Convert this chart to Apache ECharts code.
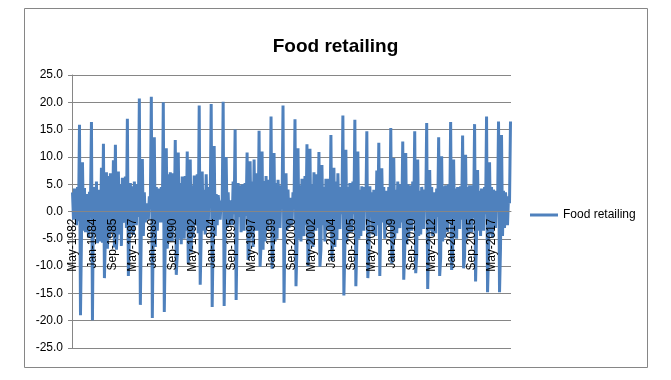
<!DOCTYPE html>
<html>
<head>
<meta charset="utf-8">
<script src="https://cdn.jsdelivr.net/npm/echarts@6/dist/echarts.min.js"></script>
<style>html,body{margin:0;padding:0;background:#fff}#c{width:671px;height:380px}</style>
</head>
<body>
<div id="c"></div>
<script>
// Monthly % change, Food retailing, May-1982 .. Dec-2018
const startYear = 1982, startMonth = 4; // May (0-based)
const v1980s = [
  /*1982*/ 3.5, -1.5, 4.2, 0.8, -2.5, 4.5, -1.8, 15.9,
  /*1983*/ -19.0, -4.6, 9.0, -3.5, 4.3, -3.8, 3.2, 2.5, -4.8, 3.6, 1.2, 16.4,
  /*1984*/ -19.9, 3.2, 4.5, -4.2, 5.5, -5.8, 4.0, 3.8, -5.5, 8.0, -5.7, 12.4,
  /*1985*/ -12.2, -4.2, 7.2, -6.8, 6.5, -5.0, 7.0, -2.2, -3.8, 9.4, -6.6, 12.2,
  /*1986*/ -7.0, -3.5, 7.3, -4.2, 5.0, -6.3, 6.2, -1.5, -2.0, 6.4, -3.0, 17.0,
  /*1987*/ -11.8, -4.5, 5.2, -3.8, 4.6, -4.3, 5.5, -0.8, -2.5, 5.0, -1.0, 20.7,
  /*1988*/ -17.1, -3.0, 9.6, -4.5, 3.5, -2.0, 1.5, 0.5, -1.5, 2.8, 1.0, 21.0,
  /*1989*/ -19.5, -2.0, 13.6, -6.5, 4.5, -3.5, 4.2, 0.8, -2.0, 4.5, -2.0, 20.0
];
const v1990s = [
  /*1990*/ -18.4, -5.0, 11.6, -6.8, 6.8, -5.5, 7.2, -1.5, -5.4, 7.0, -2.5, 13.1,
  /*1991*/ -11.6, -7.8, 10.8, -5.0, 5.2, -6.0, 6.4, -1.2, -5.0, 6.5, -3.5, 11.0,
  /*1992*/ -9.5, -3.0, 9.5, -7.5, 4.8, -4.8, 6.6, -2.5, -2.0, 6.8, -4.0, 19.4,
  /*1993*/ -13.4, -4.5, 7.3, -3.5, 4.0, -4.2, 6.8, -2.0, -3.0, 4.5, 1.0, 19.7,
  /*1994*/ -17.5, -4.2, 12.0, -4.5, 3.2, -2.5, 3.0, 1.2, -1.5, 2.0, 0.5, 20.1,
  /*1995*/ -17.3, -5.0, 10.0, -3.0, 3.5, -2.5, 1.5, 2.0, -2.5, 5.5, -0.5, 15.0,
  /*1996*/ -16.2, -3.5, 5.2, -1.0, 4.8, -3.8, 5.0, -0.5, -3.5, 5.2, -0.8, 10.8,
  /*1997*/ -8.9, -7.5, 9.2, -4.2, 5.5, -6.5, 9.5, -3.5, -3.2, 7.0, -3.5, 14.8,
  /*1998*/ -10.1, -6.0, 11.0, -7.0, 5.6, -5.5, 6.5, -1.0, -3.5, 5.8, -1.5, 17.4,
  /*1999*/ -10.5, -6.8, 10.7, -5.5, 5.2, -5.0, 5.8, -0.5, -3.0, 4.8, 0.5, 19.4
];
const v2000s = [
  /*2000*/ -16.7, -1.5, 7.0, -3.5, 4.0, -3.0, 2.5, 1.0, -2.5, 3.5, 0.8, 16.9,
  /*2001*/ -13.7, -6.0, 11.6, -5.0, 4.8, -5.5, 6.0, -1.0, -4.5, 6.5, -2.5, 12.3,
  /*2002*/ -10.0, -7.2, 11.5, -6.0, 5.0, -6.5, 7.2, -1.5, -3.5, 6.8, -3.0, 10.9,
  /*2003*/ -10.1, -7.0, 8.5, -2.5, 4.5, -5.5, 6.0, -0.5, -3.5, 6.0, -3.5, 14.0,
  /*2004*/ -9.0, -3.5, 8.0, -6.5, 5.5, -5.2, 7.0, -1.5, -3.2, 4.5, -0.5, 17.6,
  /*2005*/ -15.4, -6.5, 11.3, -5.5, 4.5, -4.0, 5.2, 0.5, -3.8, 5.5, -0.5, 16.8,
  /*2006*/ -13.7, -5.5, 11.0, -5.0, 4.0, -4.5, 4.6, 1.0, -3.5, 4.5, 0.2, 14.7,
  /*2007*/ -12.2, -7.8, 4.6, -1.0, 3.5, -4.2, 4.0, 0.5, -4.5, 7.5, -2.5, 12.6,
  /*2008*/ -11.8, -1.5, 7.9, -2.0, 4.5, -5.0, 3.8, 0.5, -2.5, 4.5, -2.8, 15.3,
  /*2009*/ -9.5, -8.5, 9.8, -5.0, 4.0, -4.0, 5.5, -2.0, -3.0, 5.0, -2.0, 12.8
];
const v2010s = [
  /*2010*/ -12.5, -7.0, 10.7, -6.0, 5.0, -4.8, 4.8, -0.5, -3.5, 5.5, -1.5, 14.7,
  /*2011*/ -11.3, -8.0, 9.5, -4.5, 3.8, -4.2, 4.5, 0.5, -3.2, 4.0, 0.5, 16.2,
  /*2012*/ -14.2, -5.5, 7.6, -3.5, 4.5, -4.5, 3.5, 1.5, -4.0, 4.2, -1.0, 13.6,
  /*2013*/ -11.8, -8.5, 10.1, -5.5, 4.6, -4.8, 4.8, -0.5, -3.8, 5.0, -1.8, 16.4,
  /*2014*/ -10.7, -8.0, 9.5, -4.8, 4.2, -5.0, 4.5, 0.2, -3.2, 4.6, -1.5, 13.9,
  /*2015*/ -10.4, -8.2, 10.4, -5.0, 4.5, -4.2, 4.8, -0.5, -3.8, 4.8, -1.2, 16.0,
  /*2016*/ -12.8, -4.0, 7.6, -3.5, 3.8, -4.5, 4.2, 0.8, -3.5, 4.5, -0.5, 17.4,
  /*2017*/ -14.8, -7.5, 9.0, -4.2, 4.5, -4.8, 4.0, 0.5, -3.0, 3.8, 0.2, 16.5,
  /*2018*/ -14.8, -6.5, 14.0, -4.5, 3.8, -3.0, 3.5, 0.5, -2.5, 2.8, 1.5, 16.5
];
const yTicks = [-25, -20, -15, -10, -5, 0, 5, 10, 15, 20, 25];
const monthNames = ['Jan','Feb','Mar','Apr','May','Jun','Jul','Aug','Sep','Oct','Nov','Dec'];

const values = [].concat(v1980s, v1990s, v2000s, v2010s);
const categories = values.map((_, i) => {
  const m = startMonth + i;
  return monthNames[m % 12] + '-' + (startYear + Math.floor(m / 12));
});

const chart = echarts.init(document.getElementById('c'), null, {renderer: 'canvas'});
const FONT = 'Liberation Sans';
const plotTop = 75, plotBottom = 32, plotHeight = 380 - plotTop - plotBottom;
chart.setOption({
  animation: false,
  backgroundColor: '#ffffff',
  graphic: [{
    type: 'rect', silent: true, z: -10,
    shape: {x: 24.5, y: 8.5, width: 623, height: 359},
    style: {fill: 'none', stroke: '#868686', lineWidth: 1}
  }],
  title: {
    text: 'Food retailing', left: 'center', top: 32,
    textStyle: {fontFamily: FONT, fontSize: 19, fontWeight: 'bold', color: '#000'}
  },
  legend: {
    left: 525, top: 204, icon: 'rect', itemWidth: 28, itemHeight: 3, itemGap: 0,
    textStyle: {fontFamily: FONT, fontSize: 12, color: '#000'},
    data: ['Food retailing']
  },
  grid: {left: 72, right: 160, top: plotTop, bottom: plotBottom, containLabel: false, outerBoundsMode: 'none'},
  xAxis: {
    type: 'category', data: categories, boundaryGap: true, z: 5,
    position: 'bottom',
    // axis sits on the zero line (middle of the symmetric -25..25 range)
    offset: -plotHeight * (0 - yTicks[0]) / (yTicks[yTicks.length - 1] - yTicks[0]),
    axisLine: {show: true, onZero: false, lineStyle: {color: '#868686', width: 1}},
    axisTick: {show: false},
    axisLabel: {interval: 19, rotate: 90, margin: 7, fontFamily: FONT, fontSize: 12, color: '#000'},
    splitLine: {show: false}
  },
  yAxis: {
    type: 'value', min: yTicks[0], max: yTicks[yTicks.length - 1], interval: 5,
    axisLine: {show: true, lineStyle: {color: '#868686'}},
    axisTick: {show: true, length: 4, lineStyle: {color: '#868686'}},
    axisLabel: {fontFamily: FONT, fontSize: 12, color: '#000', margin: 9, formatter: v => v.toFixed(1)},
    splitLine: {show: true, lineStyle: {color: '#868686', width: 1}}
  },
  series: [{
    name: 'Food retailing', type: 'line', data: values,
    showSymbol: false, symbol: 'none', sampling: null,
    lineStyle: {color: '#4F81BD', width: 3},
    itemStyle: {color: '#4F81BD'}
  }]
});
</script>
</body>
</html>
